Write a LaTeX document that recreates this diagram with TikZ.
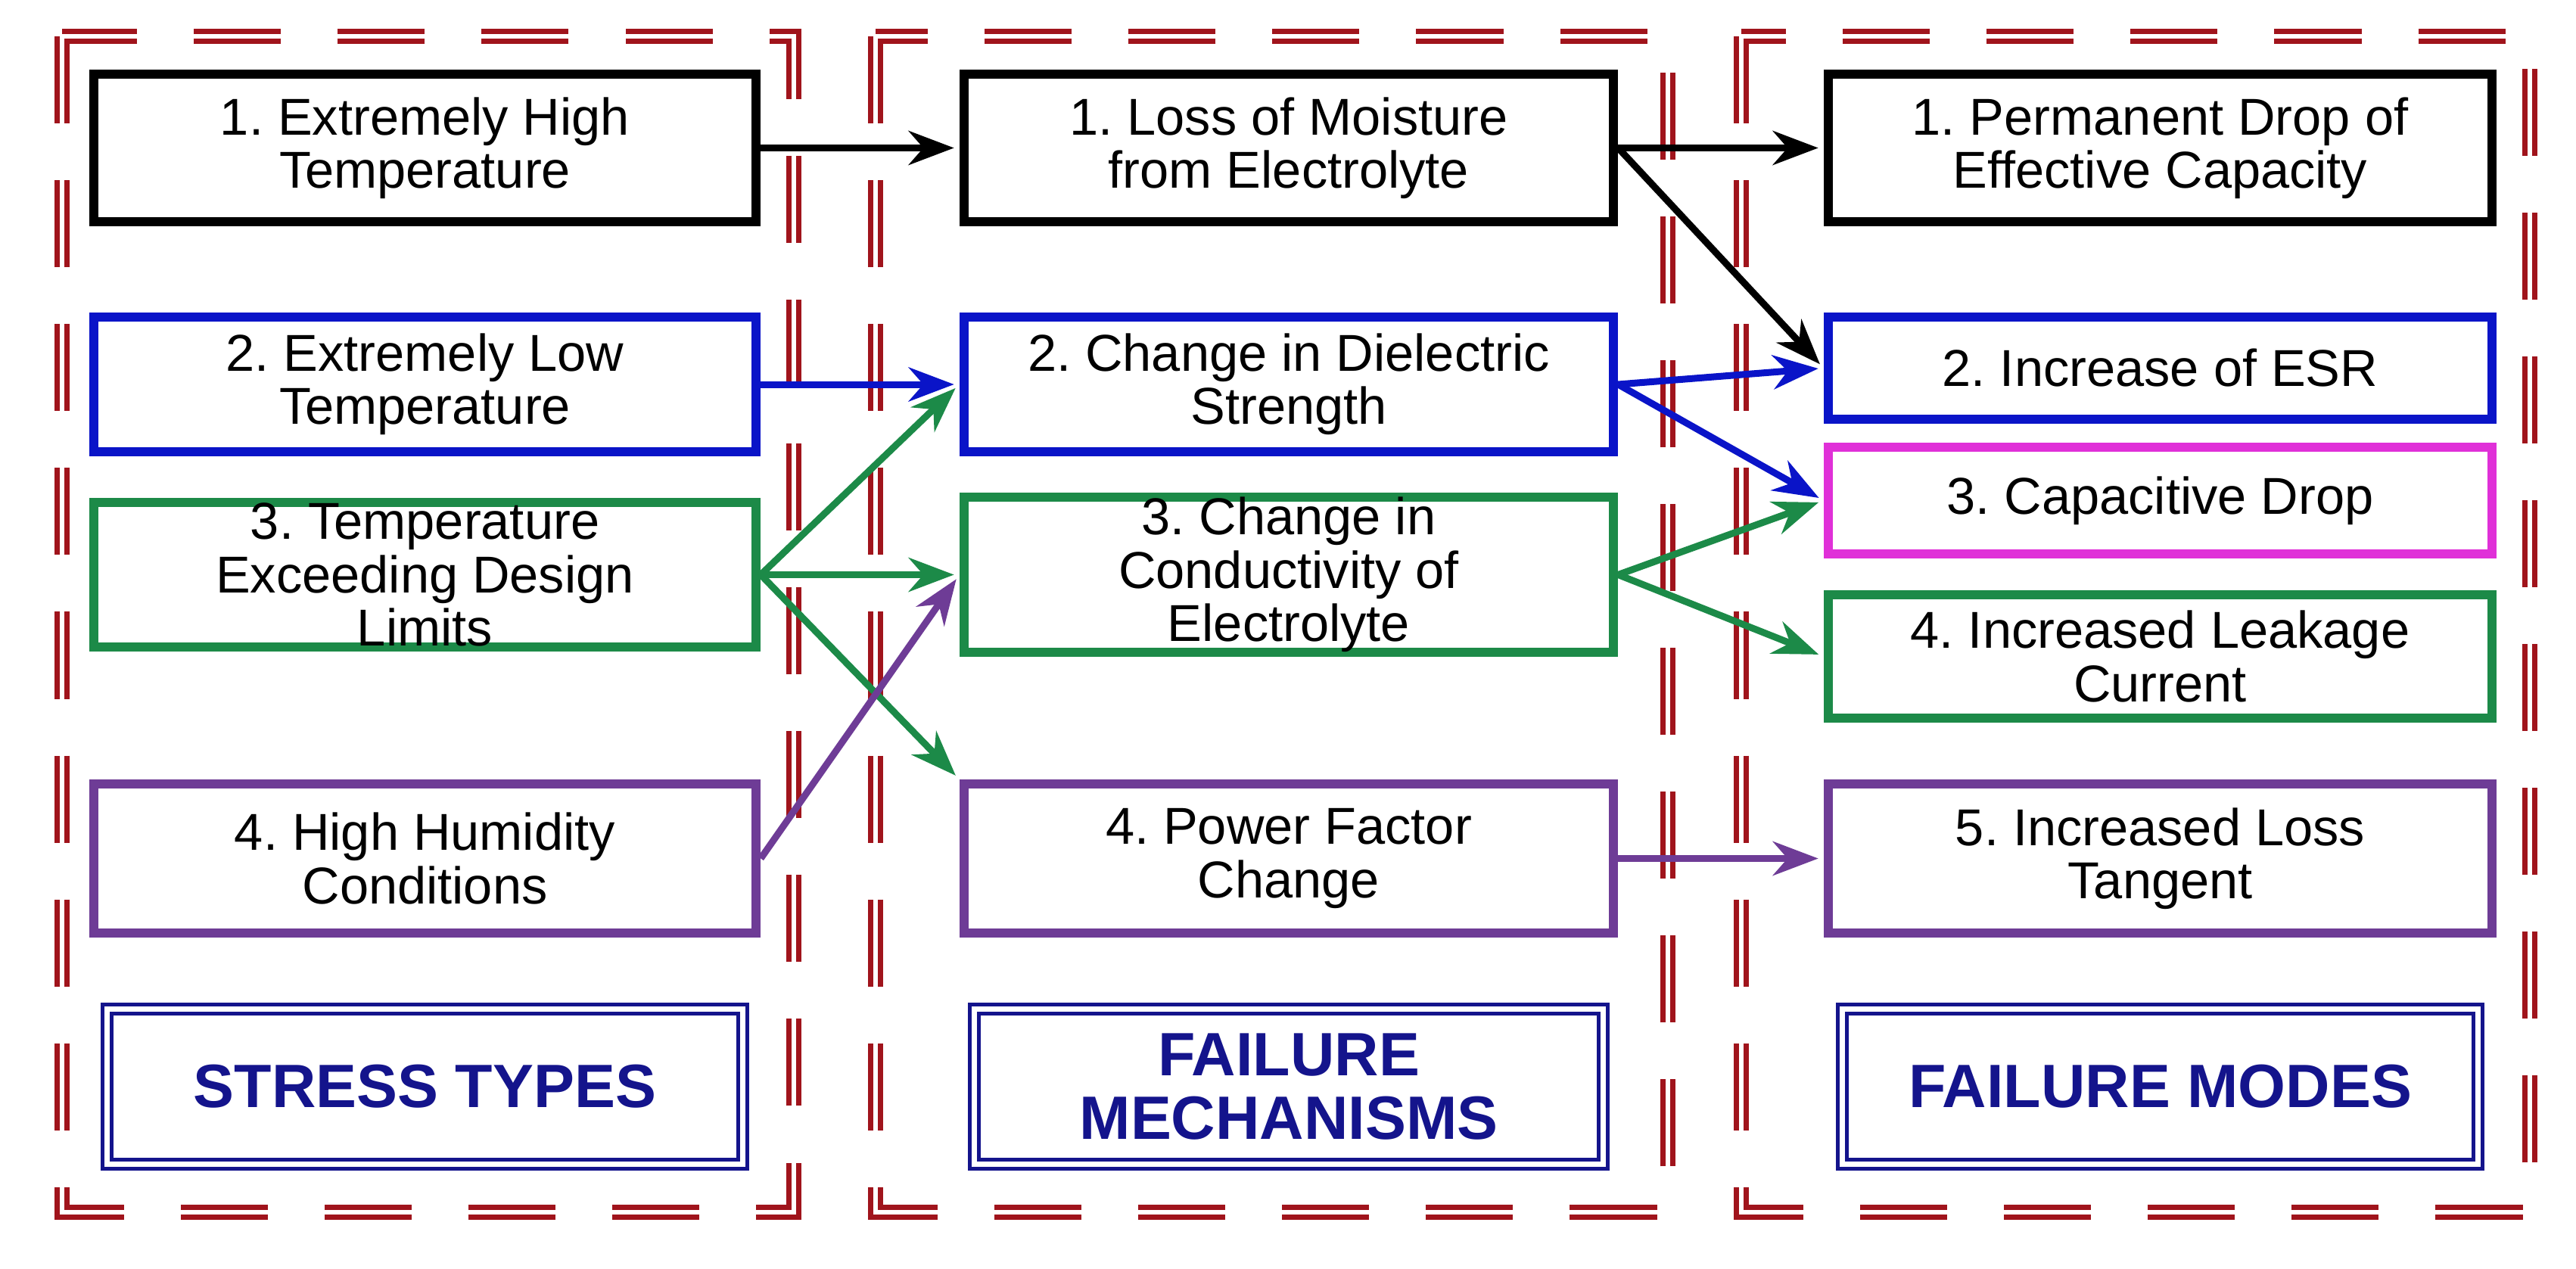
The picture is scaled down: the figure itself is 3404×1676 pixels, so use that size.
\documentclass[tikz,border=0pt]{standalone}
\usepackage{fontspec}
\setmainfont{Liberation Sans}
\usetikzlibrary{arrows.meta}
\definecolor{dred}{HTML}{A0141C}
\definecolor{cblue}{HTML}{0A14C8}
\definecolor{cgreen}{HTML}{1C8A48}
\definecolor{cpurple}{HTML}{6E3C96}
\definecolor{cmag}{HTML}{E030D8}
\definecolor{navy}{HTML}{14148C}
\begin{document}
\frenchspacing
\begin{tikzpicture}[x=0.01cm,y=-0.01cm,
  box/.style={draw=#1, line width=0.12cm, align=center, inner sep=0pt,
    font=\fontsize{19.5}{20}\selectfont},
  lbl/.style={draw=navy, line width=0.05cm, double=white, double distance=0.07cm,
    align=center, inner sep=0pt, text=navy, font=\fontsize{23}{24}\selectfont\bfseries},
  frame/.style={draw=dred, line width=0.07cm, double=white, double distance=0.06cm,
    dash pattern=on 1.15cm off 0.75cm},
  arr/.style={draw=#1, line width=0.09cm, -{Stealth[length=0.6cm,width=0.45cm]}, shorten >=2pt}]
\useasboundingbox (0,0) rectangle (3404,1676);
% frames
\draw[frame] (82,48) rectangle (1049,1602);
\draw[frame] (1157,48) rectangle (2204,1602);
\draw[frame] (2301,48) rectangle (3343,1602);
% left
\node[box=black, minimum width=8.75cm, minimum height=1.95cm] (L1) at (561.5,195.5) {1. Extremely High\\Temperature};
\node[box=cblue, minimum width=8.75cm, minimum height=1.78cm] (L2) at (561.5,508) {2. Extremely Low\\Temperature};
\node[box=cgreen, minimum width=8.75cm, minimum height=1.91cm] (L3) at (561.5,759.5) {3. Temperature\\Exceeding Design\\Limits};
\node[box=cpurple, minimum width=8.75cm, minimum height=1.97cm] (L4) at (561.5,1134.5) {4. High Humidity\\Conditions};
\node[lbl, minimum width=8.4cm, minimum height=2.05cm] (LT) at (561.5,1436) {STRESS TYPES};
% middle
\node[box=black, minimum width=8.58cm, minimum height=1.95cm] (M1) at (1703,195.5) {1. Loss of Moisture\\from Electrolyte};
\node[box=cblue, minimum width=8.58cm, minimum height=1.78cm] (M2) at (1703,508) {2. Change in Dielectric\\Strength};
\node[box=cgreen, minimum width=8.58cm, minimum height=1.91cm] (M3) at (1703,759.5) {3. Change in\\Conductivity of\\Electrolyte};
\node[box=cpurple, minimum width=8.58cm, minimum height=1.97cm] (M4) at (1703,1134.5) {4. Power Factor\\Change};
\node[lbl, minimum width=8.3cm, minimum height=2.05cm] (MT) at (1703,1436) {FAILURE\\MECHANISMS};
% right
\node[box=black, minimum width=8.77cm, minimum height=1.95cm] (R1) at (2854.5,195.5) {1. Permanent Drop of\\Effective Capacity};
\node[box=cblue, minimum width=8.77cm, minimum height=1.35cm] (R2) at (2854.5,486.5) {2. Increase of ESR};
\node[box=cmag, minimum width=8.77cm, minimum height=1.41cm] (R3) at (2854.5,661.5) {3. Capacitive Drop};
\node[box=cgreen, minimum width=8.77cm, minimum height=1.63cm] (R4) at (2854.5,867.5) {4. Increased Leakage\\Current};
\node[box=cpurple, minimum width=8.77cm, minimum height=1.97cm] (R5) at (2854.5,1134.5) {5. Increased Loss\\Tangent};
\node[lbl, minimum width=8.4cm, minimum height=2.05cm] (RT) at (2854.5,1436) {FAILURE MODES};
% arrows
\draw[arr=black] (L1.east) -- (M1.west);
\draw[arr=black] (M1.east) -- (R1.west);
\draw[arr=black] (M1.east) -- (R2.west);
\draw[arr=cblue] (L2.east) -- (M2.west);
\draw[arr=cblue] (M2.east) -- (R2.west);
\draw[arr=cblue] (M2.east) -- (R3.west);
\draw[arr=cgreen] (L3.east) -- (M2.west);
\draw[arr=cgreen] (L3.east) -- (M3.west);
\draw[arr=cgreen] (L3.east) -- (M4.north west);
\draw[arr=cpurple] (L4.east) -- (M3.west);
\draw[arr=cgreen] (M3.east) -- (R3.west);
\draw[arr=cgreen] (M3.east) -- (R4.west);
\draw[arr=cpurple] (M4.east) -- (R5.west);
\end{tikzpicture}
\end{document}
